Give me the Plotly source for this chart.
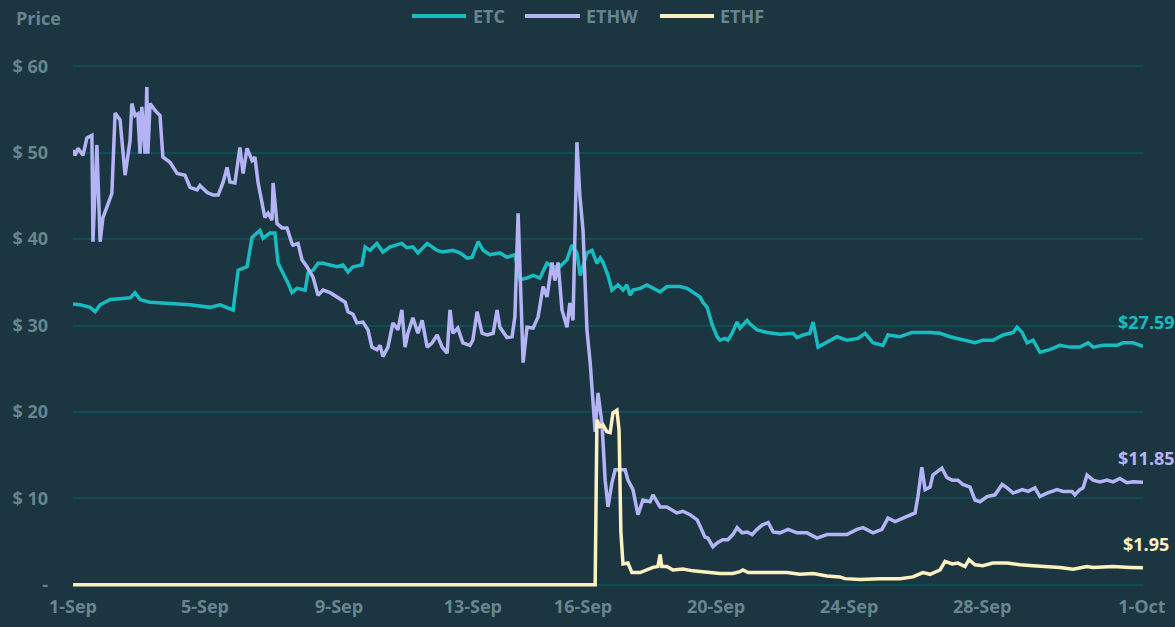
import plotly.graph_objects as go

# x values: days elapsed since 1-Sep
etc_x = [0, 0.20, 0.48, 0.62, 0.76, 1.04, 1.32, 1.60, 1.74, 1.88, 2.16, 2.72, 3.28, 3.84, 4.12, 4.49,
         4.63, 4.88, 5.02, 5.24, 5.33, 5.52, 5.66, 5.75, 5.89, 6.03, 6.14, 6.28, 6.51, 6.59, 6.73, 6.87,
         7.01, 7.21, 7.40, 7.57, 7.71, 7.85, 8.10, 8.19, 8.33, 8.52, 8.69, 8.89, 9.22, 9.36, 9.53, 9.67,
         9.93, 10.21, 10.37, 10.65, 10.85, 11.05, 11.19, 11.36, 11.50, 11.69, 11.97, 12.17, 12.39, 12.53,
         12.73, 12.90, 13.09, 13.29, 13.46, 13.65, 13.85, 13.99, 14.13, 14.22, 14.41, 14.55, 14.69, 14.78,
         14.86, 15.00, 15.11, 15.28, 15.42, 15.53, 15.62, 15.70, 15.90, 16.09, 16.26, 16.46, 16.65, 17.02,
         17.22, 17.38, 17.58, 17.66, 17.78, 17.92, 18.06, 18.14, 18.28, 18.36, 18.48, 18.62, 18.70, 18.90,
         18.98, 19.18, 19.46, 19.82, 20.19, 20.30, 20.47, 20.66, 20.75, 20.89, 21.14, 21.42, 21.70, 22.01,
         22.21, 22.43, 22.71, 22.85, 23.19, 23.52, 24.03, 24.31, 24.59, 24.95, 25.29, 25.51, 25.79, 26.08,
         26.36, 26.47, 26.61, 26.75, 26.92, 27.11, 27.39, 27.67, 27.95, 28.23, 28.46, 28.60, 28.88, 29.27,
         29.44, 29.72, 30.0]
etc_y = [32.5, 32.4, 32.1, 31.6, 32.4, 33.0, 33.1, 33.2, 33.8, 33.0, 32.7, 32.6, 32.4, 32.1, 32.4, 31.8,
         36.4, 36.8, 40.2, 41.0, 40.1, 40.7, 40.7, 37.2, 36.1, 34.9, 33.8, 34.3, 34.1, 36.1, 36.4, 37.2,
         37.2, 37.0, 36.8, 37.0, 36.2, 36.8, 37.0, 39.1, 38.7, 39.5, 38.5, 39.1, 39.5, 39.0, 39.1, 38.4,
         39.5, 38.7, 38.5, 38.7, 38.4, 37.8, 37.9, 39.7, 38.7, 38.2, 38.4, 37.9, 38.2, 35.3,
         35.5, 35.8, 35.5, 37.2, 36.8, 36.8, 37.6, 39.3, 38.4, 35.8, 38.4, 38.7, 37.2, 37.8,
         37.3, 35.8, 34.1, 34.7, 34.1, 34.7, 33.5, 34.1, 34.3, 34.7, 34.3, 33.9, 34.5, 34.5,
         34.3, 33.8, 33.3, 32.7, 32.1, 30.1, 28.7, 28.3, 28.5, 28.3, 29.1, 30.4, 29.7, 30.6,
         30.2, 29.5, 29.2, 29.0, 29.1, 28.6, 28.9, 29.1, 30.4, 27.5, 28.1, 28.7, 28.3, 28.5,
         29.1, 28.0, 27.7, 28.9, 28.7, 29.2, 29.2, 29.1, 28.7, 28.3, 28.0, 28.3, 28.3, 28.9,
         29.2, 29.8, 29.2, 28.0, 28.3, 26.9, 27.2, 27.7, 27.5, 27.5, 28.0, 27.5, 27.7, 27.7,
         28.0, 28.0, 27.59]

ethw_x = [0, 0.06, 0.14, 0.28, 0.39, 0.53, 0.56, 0.67, 0.76, 0.84, 0.95, 1.09, 1.18, 1.32, 1.46, 1.60,
          1.65, 1.74, 1.82, 1.88, 1.93, 2.02, 2.07, 2.10, 2.16, 2.30, 2.44, 2.52, 2.72, 2.92, 3.14, 3.28,
          3.48, 3.56, 3.76, 3.93, 4.07, 4.21, 4.32, 4.40, 4.54, 4.68, 4.77, 4.88, 5.02, 5.10, 5.19, 5.30,
          5.38, 5.47, 5.58, 5.61, 5.72, 5.86, 6.00, 6.14, 6.17, 6.31, 6.42, 6.56, 6.73, 6.87, 7.01, 7.21,
          7.40, 7.63, 7.71, 7.85, 7.96, 8.13, 8.27, 8.38, 8.52, 8.61, 8.69, 8.83, 8.97, 9.11, 9.22, 9.31,
          9.39, 9.53, 9.67, 9.79, 9.93, 10.07, 10.21, 10.35, 10.49, 10.57, 10.65, 10.79, 10.93, 11.13,
          11.21, 11.33, 11.47, 11.61, 11.78, 11.89, 11.97, 12.17, 12.31, 12.39, 12.48, 12.62, 12.73,
          12.90, 13.04, 13.18, 13.29, 13.43, 13.51, 13.60, 13.71, 13.85, 13.93, 14.02, 14.13, 14.21,
          14.30, 14.41, 14.50, 14.58, 14.64, 14.72, 14.83, 14.92, 15.00, 15.11, 15.20, 15.48, 15.56,
          15.70, 15.84, 15.98, 16.18, 16.26, 16.46, 16.65, 16.79, 16.93, 17.10, 17.30, 17.50, 17.58,
          17.72, 17.80, 17.94, 18.08, 18.22, 18.36, 18.50, 18.62, 18.76, 18.90, 19.04, 19.18, 19.32,
          19.49, 19.63, 19.82, 20.05, 20.30, 20.58, 20.86, 21.14, 21.42, 21.70, 21.98, 22.15, 22.43,
          22.68, 22.85, 23.05, 23.27, 23.47, 23.61, 23.69, 23.80, 23.89, 24.03, 24.11, 24.25, 24.36,
          24.50, 24.65, 24.81, 24.95, 25.15, 25.29, 25.43, 25.63, 25.85, 26.05, 26.19, 26.36, 26.61,
          26.78, 26.97, 27.11, 27.31, 27.59, 27.76, 28.01, 28.09, 28.23, 28.32, 28.43, 28.60, 28.79,
          28.99, 29.16, 29.35, 29.55, 29.72, 30.0]
ethw_y = [50.3, 49.7, 50.5, 49.7, 51.7, 52.0, 39.7, 50.9, 39.7, 42.5, 43.7, 45.3, 54.6, 53.8, 47.4, 51.4,
          55.7, 54.3, 54.5, 49.9, 55.3, 49.9, 57.6, 49.9, 55.7, 54.9, 54.3, 49.5, 48.9, 47.6, 47.4, 46.0,
          45.7, 46.2, 45.4, 45.1, 45.1, 46.6, 48.3, 46.6, 46.5, 50.6, 47.6, 50.5, 49.1, 49.5, 46.5, 44.2,
          42.5, 43.0, 42.2, 46.5, 41.8, 41.3, 41.3, 39.5, 39.3, 39.5, 37.6, 36.8, 35.6, 33.5, 34.1, 33.8,
          33.3, 32.7, 31.6, 31.3, 30.3, 30.4, 29.5, 27.5, 27.2, 27.7, 26.4, 27.5, 30.3, 29.5, 31.8, 27.5,
          29.1, 30.9, 29.1, 30.6, 27.5, 28.0, 28.9, 27.5, 26.8, 31.8, 29.1, 29.7, 28.0, 27.7,
          28.3, 31.6, 29.1, 28.9, 29.1, 31.8, 29.8, 28.6, 28.7, 31.0, 43.0, 25.7, 29.8,
          29.7, 31.0, 34.5, 33.3, 37.3, 35.2, 37.3, 31.8, 29.8, 32.6, 30.6, 51.2, 45.1,
          41.0, 29.5, 25.7, 21.7, 17.7, 22.2, 18.7, 12.1, 9.0, 11.8, 13.3, 13.3, 12.1,
          11.0, 8.1, 9.8, 9.6, 10.4, 9.0, 9.0, 8.7, 8.3, 8.5, 8.1, 7.5, 6.7,
          5.5, 5.4, 4.4, 4.9, 5.2, 5.2, 5.8, 6.6, 6.0, 6.1, 5.8, 6.4, 6.9,
          7.2, 6.1, 6.0, 6.4, 6.0, 6.0, 5.4, 5.8, 5.8, 5.8, 6.4, 6.6, 6.0,
          6.4, 7.7, 7.3, 7.7, 8.1, 8.3, 10.2, 13.6, 11.0, 11.3, 12.7, 13.1, 13.5,
          12.4, 12.1, 12.1, 11.6, 11.3, 9.8, 9.6, 10.2, 10.4, 11.6, 11.2, 10.6, 11.0,
          10.8, 11.2, 10.2, 10.6, 11.0, 10.8, 10.8, 10.4, 11.0, 11.2, 12.7, 12.1, 11.9,
          12.1, 11.9, 12.3, 11.8, 11.9, 11.85]

ethf_x = [0, 14.64, 14.69, 14.78, 14.86, 14.97, 15.06, 15.14, 15.25, 15.31, 15.36, 15.42, 15.56, 15.67,
          15.90, 16.09, 16.26, 16.40, 16.46, 16.51, 16.65, 16.82, 17.10, 17.38, 17.78, 18.14, 18.50,
          18.70, 18.78, 18.93, 19.26, 20.02, 20.38, 20.75, 21.14, 21.50, 21.64, 22.07, 22.63, 23.19,
          23.55, 23.83, 24.03, 24.31, 24.45, 24.65, 24.81, 25.01, 25.12, 25.29, 25.51, 25.79, 26.19,
          26.55, 26.92, 27.31, 27.67, 28.04, 28.43, 28.60, 29.16, 29.64, 30.0]
ethf_y = [0, 0, 19.1, 18.3, 18.5, 17.7, 17.6, 19.9, 20.2, 17.9, 6.2, 2.4, 2.5, 1.4,
          1.4, 1.7, 2.0, 2.1, 3.5, 2.1, 2.1, 1.7, 1.8, 1.6, 1.4, 1.3, 1.3,
          1.5, 1.7, 1.4, 1.4, 1.4, 1.2, 1.3, 1.0, 0.9, 0.7, 0.6, 0.7, 0.7,
          0.9, 1.4, 1.2, 1.7, 2.7, 2.4, 2.5, 2.1, 2.9, 2.3, 2.2, 2.5, 2.5,
          2.3, 2.2, 2.1, 2.0, 1.8, 2.1, 2.0, 2.1, 2.0, 1.95]

series_names = ["ETC", "ETHW", "ETHF"]
series_colors = ["#17bcc0", "#b4b3f6", "#fdf0c1"]
end_labels = ["$27.59", "$11.85", "$1.95"]

tick_pos = [0, 3.70, 7.46, 11.21, 14.30, 18.03, 21.76, 25.49, 29.97]
tick_text = ["1-Sep", "5-Sep", "9-Sep", "13-Sep", "16-Sep", "20-Sep", "24-Sep", "28-Sep", "1-Oct"]
y_ticks = [0, 10, 20, 30, 40, 50, 60]
y_text = ["-", "$ 10", "$ 20", "$ 30", "$ 40", "$ 50", "$ 60"]

BG = "#1b3640"
GRID = "#0d4f55"
TXT = "#67858e"
FONT = "Open Sans"
FS = 18

fig = go.Figure()
xs = [etc_x, ethw_x, ethf_x]
ys = [etc_y, ethw_y, ethf_y]
for name, color, x, y in zip(series_names, series_colors, xs, ys):
    fig.add_trace(go.Scatter(x=x, y=y, mode="lines", name=name, showlegend=False,
                             line=dict(color=color, width=3.5)))

for color, x, y, lab in zip(series_colors, xs, ys, end_labels):
    fig.add_annotation(x=x[-1], y=y[-1], text=lab, showarrow=False, xanchor="center",
                       yanchor="middle", yshift=24, xshift=3,
                       font=dict(family=FONT, size=FS, color=color, weight="bold"))

# legend drawn as line samples + labels above the plot
legend_line_x = [(0.3168, 0.3673), (0.4224, 0.4738), (0.5486, 0.5991)]
legend_text_x = [0.3720, 0.4776, 0.6028]
LEG_Y = 1.0873
for name, color, (x0, x1), tx in zip(series_names, series_colors, legend_line_x, legend_text_x):
    fig.add_shape(type="line", xref="paper", yref="paper", x0=x0, x1=x1, y0=LEG_Y, y1=LEG_Y,
                  line=dict(color=color, width=4))
    fig.add_annotation(x=tx, y=LEG_Y, xref="paper", yref="paper", text=name, showarrow=False,
                       xanchor="left", yanchor="middle",
                       font=dict(family=FONT, size=FS, color=TXT, weight="bold"))

fig.add_annotation(x=-0.055, y=1.083, xref="paper", yref="paper", text="Price", showarrow=False,
                   xanchor="left", yanchor="middle",
                   font=dict(family=FONT, size=FS, color=TXT, weight="bold"))

fig.update_layout(
    width=1175, height=627,
    paper_bgcolor=BG, plot_bgcolor=BG,
    margin=dict(l=73, r=32, t=62, b=38, autoexpand=False),
    font=dict(family=FONT, color=TXT, size=FS),
    showlegend=False,
    xaxis=dict(range=[0, 30], tickmode="array", tickvals=tick_pos, ticktext=tick_text,
               showgrid=False, zeroline=False, showline=False, ticks="", ticklabelstandoff=5,
               tickfont=dict(family=FONT, size=FS, color=TXT, weight="bold")),
    yaxis=dict(range=[-0.5, 60.5], tickmode="array", tickvals=y_ticks, ticktext=y_text,
               showgrid=True, gridcolor=GRID, gridwidth=2, zeroline=False, showline=False,
               ticks="", ticklabelstandoff=24,
               tickfont=dict(family=FONT, size=FS, color=TXT, weight="bold")),
)

fig.write_html("out.html", config={"displayModeBar": False},
               post_script="document.body.style.margin='0px';")
